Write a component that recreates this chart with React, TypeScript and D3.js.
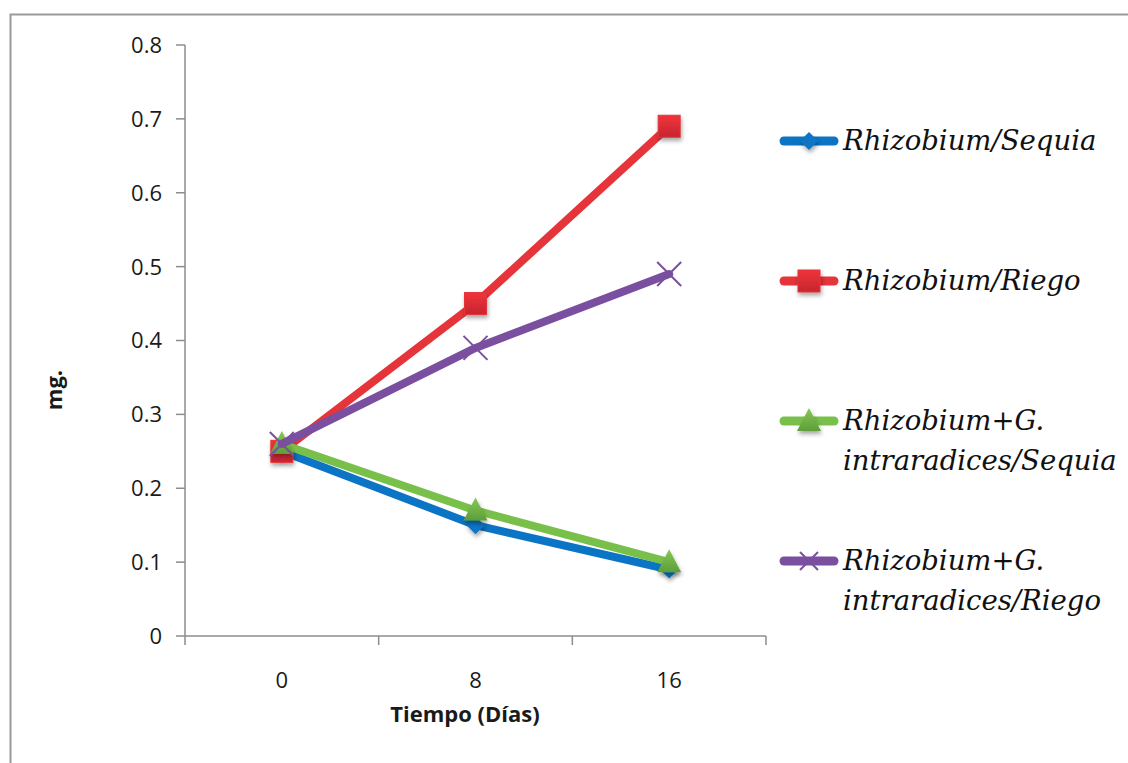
import React from "react";
import * as d3 from "d3";

const categories = ["0", "8", "16"];
const yTicks = [0, 0.1, 0.2, 0.3, 0.4, 0.5, 0.6, 0.7, 0.8];
const rhizSequia = [0.25, 0.15, 0.09];
const rhizRiego = [0.25, 0.45, 0.69];
const rhizGSequia = [0.26, 0.17, 0.1];
const rhizGRiego = [0.26, 0.39, 0.49];

const seriesNames = [
  ["Rhizobium/Sequia"],
  ["Rhizobium/Riego"],
  ["Rhizobium+G.", "intraradices/Sequia"],
  ["Rhizobium+G.", "intraradices/Riego"],
];
const seriesValues = [rhizSequia, rhizRiego, rhizGSequia, rhizGRiego];
const colors = ["#0B74C4", "#E5343A", "#79C04A", "#7A4FA0"];
const markers = ["diamond", "square", "triangle", "x"];

const W = 1128;
const H = 763;
const left = 185;
const right = 766;
const top = 45;
const bottom = 636;
const sans = "'Open Sans', 'Liberation Sans', sans-serif";

function Marker({ type, x, y, color, legend }: { type: string; x: number; y: number; color: string; legend?: boolean }) {
  if (type === "diamond") {
    const s = 9;
    return (
      <path
        d={`M${x},${y - s}L${x + s},${y}L${x},${y + s}L${x - s},${y}Z`}
        fill={color}
        filter="url(#shadow)"
      />
    );
  }
  if (type === "square") {
    const s = 11;
    return (
      <rect x={x - s} y={y - s} width={2 * s} height={2 * s} fill="url(#redGrad)" stroke="#E5343A" strokeWidth={1} filter="url(#shadow)" />
    );
  }
  if (type === "triangle") {
    const s = 12;
    return (
      <path
        d={`M${x},${y - s - 1}L${x + s},${y + s - 2}L${x - s},${y + s - 2}Z`}
        fill="url(#greenGrad)"
        filter="url(#shadow)"
      />
    );
  }
  const s = legend ? 9 : 12;
  return (
    <path
      d={`M${x - s},${y - s}L${x + s},${y + s}M${x + s},${y - s}L${x - s},${y + s}`}
      stroke={color}
      strokeWidth={2}
      fill="none"
    />
  );
}

export default function App() {
  const x = d3.scaleBand<string>().domain(categories).range([left, right]);
  const y = d3.scaleLinear().domain([0, 0.8]).range([bottom, top]);
  const cx = (c: string) => (x(c) as number) + x.bandwidth() / 2;
  const line = d3
    .line<number>()
    .x((_, i) => cx(categories[i]))
    .y((d) => y(d));

  const legendYs = [141, 281, 421, 561];
  const boundaries = [...categories.map((c) => x(c) as number), right];

  return (
    <svg width={W} height={H} style={{ position: "absolute", left: 0, top: 0 }}>
      <defs>
        <filter id="shadow" x="-50%" y="-50%" width="200%" height="200%">
          <feDropShadow dx="1" dy="3" stdDeviation="2" floodColor="#000" floodOpacity="0.35" />
        </filter>
        <linearGradient id="redGrad" x1="0" y1="0" x2="0" y2="1">
          <stop offset="0" stopColor="#F0343A" />
          <stop offset="1" stopColor="#C62530" />
        </linearGradient>
        <linearGradient id="greenGrad" x1="0" y1="0" x2="0" y2="1">
          <stop offset="0" stopColor="#86C856" />
          <stop offset="1" stopColor="#5E9E3A" />
        </linearGradient>
      </defs>
      <rect x={0} y={0} width={W} height={H} fill="#fff" />
      <path d={`M10.5,${H}V14.5H${W}`} fill="none" stroke="#9A9A9A" strokeWidth={2} />

      {/* y axis */}
      <line x1={left} x2={left} y1={top} y2={bottom} stroke="#8C8C8C" strokeWidth={1.5} />
      {yTicks.map((t) => (
        <g key={t}>
          <line x1={left - 9} x2={left} y1={y(t)} y2={y(t)} stroke="#8C8C8C" strokeWidth={1.5} />
          <text x={162} y={y(t)} dy="0.36em" textAnchor="end" fontFamily={sans} fontSize={22} fill="#1a1a1a">
            {t === 0 ? "0" : t.toFixed(1)}
          </text>
        </g>
      ))}

      {/* x axis */}
      <line x1={left} x2={right} y1={bottom} y2={bottom} stroke="#8C8C8C" strokeWidth={1.5} />
      {boundaries.map((b, i) => (
        <line key={i} x1={b} x2={b} y1={bottom} y2={bottom + 9} stroke="#8C8C8C" strokeWidth={1.5} />
      ))}
      {categories.map((c) => (
        <text key={c} x={cx(c)} y={688} textAnchor="middle" fontFamily={sans} fontSize={22} fill="#1a1a1a">
          {c}
        </text>
      ))}
      <text x={465} y={722} textAnchor="middle" fontFamily={sans} fontWeight="bold" fontSize={22} fill="#1a1a1a">
        Tiempo (Días)
      </text>
      <text
        transform={`translate(62,390) rotate(-90)`}
        textAnchor="middle"
        fontFamily={sans}
        fontWeight="bold"
        fontSize={22}
        fill="#1a1a1a"
      >
        mg.
      </text>

      {/* series */}
      {seriesValues.map((vals, si) => (
        <g key={si}>
          <path d={line(vals) || ""} fill="none" stroke={colors[si]} strokeWidth={8} strokeLinejoin="round" strokeLinecap="round" />
          {vals.map((v, i) => (
            <Marker key={i} type={markers[si]} x={cx(categories[i])} y={y(v)} color={colors[si]} />
          ))}
        </g>
      ))}

      {/* legend */}
      {seriesNames.map((name, si) => (
        <g key={si}>
          <line x1={784} x2={834} y1={legendYs[si]} y2={legendYs[si]} stroke={colors[si]} strokeWidth={9} strokeLinecap="round" />
          <Marker type={markers[si]} x={809} y={legendYs[si]} color={colors[si]} legend />
          {name.map((ln, li) => (
            <text
              key={li}
              x={843}
              y={legendYs[si] + 9 + li * 40}
              fontFamily="'DejaVu Serif', 'Liberation Serif', serif"
              fontStyle="italic"
              fontSize={27.5}
              fill="#111"
            >
              {ln}
            </text>
          ))}
        </g>
      ))}
    </svg>
  );
}
